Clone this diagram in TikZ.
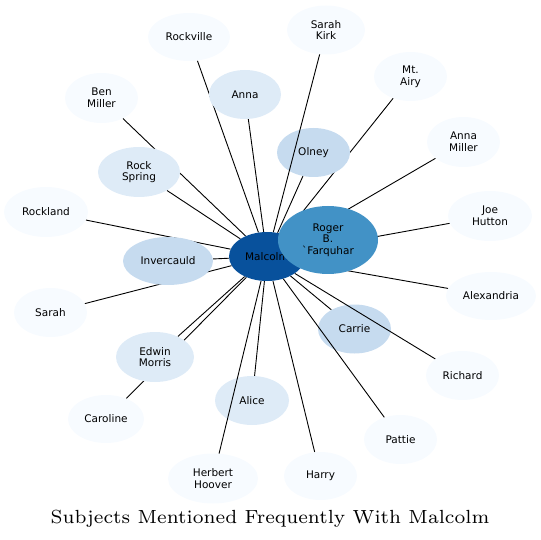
\documentclass[tikz,border=0pt]{standalone}
\usepackage{fontspec}
\newfontfamily\nodefont{DejaVu Sans}
\newfontfamily\titlefnt{lmroman7-regular.otf}
\usetikzlibrary{shapes.geometric,backgrounds}
\definecolor{bA}{HTML}{F7FBFF}
\definecolor{bB}{HTML}{DEEBF7}
\definecolor{bC}{HTML}{C6DBEF}
\definecolor{bF}{HTML}{4292C6}
\definecolor{bH}{HTML}{08519C}
\begin{document}
\begin{tikzpicture}[x=1pt,y=-1pt,
  bub/.style={ellipse,draw=none,inner sep=0pt,align=center,text=black,
    font=\nodefont\fontsize{10.5}{11.7}\selectfont},
  link/.style={draw=black,line width=0.9pt},
  titlefont/.style={font=\titlefnt\fontsize{19}{21}\selectfont}]
\useasboundingbox (0,0) rectangle (541,540);
% nodes
\node[bub,fill=bH,minimum width=76pt,minimum height=49pt] (malcolm) at (267,256.5) {Malcolm};
\node[bub,fill=bF,minimum width=100pt,minimum height=68pt] (roger) at (328,240) {Roger\\B.\\`Farquhar};
\node[bub,fill=bA,minimum width=82pt,minimum height=48pt] (rockville) at (189,37) {Rockville};
\node[bub,fill=bA,minimum width=78pt,minimum height=49pt] (sarahkirk) at (326,30) {Sarah\\Kirk};
\node[bub,fill=bB,minimum width=72pt,minimum height=49pt] (anna) at (245,94.5) {Anna};
\node[bub,fill=bA,minimum width=73pt,minimum height=49pt] (mtairy) at (410.5,76.5) {Mt.\\Airy};
\node[bub,fill=bA,minimum width=73pt,minimum height=50pt] (benmiller) at (101.5,98) {Ben\\Miller};
\node[bub,fill=bC,minimum width=73pt,minimum height=49pt] (olney) at (313.5,152.5) {Olney};
\node[bub,fill=bA,minimum width=73pt,minimum height=50pt] (annamiller) at (463.5,142) {Anna\\Miller};
\node[bub,fill=bB,minimum width=82pt,minimum height=50pt] (rockspring) at (139,172) {Rock\\Spring};
\node[bub,fill=bA,minimum width=84pt,minimum height=50pt] (rockland) at (46,212) {Rockland};
\node[bub,fill=bA,minimum width=84pt,minimum height=50pt] (joehutton) at (490,216) {Joe\\Hutton};
\node[bub,fill=bC,minimum width=90pt,minimum height=48pt] (invercauld) at (168,261) {Invercauld};
\node[bub,fill=bA,minimum width=90pt,minimum height=48pt] (alexandria) at (491,296) {Alexandria};
\node[bub,fill=bA,minimum width=73pt,minimum height=49pt] (sarah) at (50.5,312.5) {Sarah};
\node[bub,fill=bC,minimum width=73pt,minimum height=49pt] (carrie) at (354.5,329) {Carrie};
\node[bub,fill=bA,minimum width=73pt,minimum height=49pt] (richard) at (462.5,375.5) {Richard};
\node[bub,fill=bA,minimum width=73pt,minimum height=49pt] (pattie) at (400.5,439.5) {Pattie};
\node[bub,fill=bA,minimum width=73pt,minimum height=48pt] (harry) at (320.5,476) {Harry};
\node[bub,fill=bB,minimum width=78pt,minimum height=50pt] (edwinmorris) at (155,357) {Edwin\\Morris};
\node[bub,fill=bA,minimum width=76pt,minimum height=48pt] (caroline) at (106,419) {Caroline};
\node[bub,fill=bB,minimum width=74pt,minimum height=49pt] (alice) at (252,400.5) {Alice};
\node[bub,fill=bA,minimum width=90pt,minimum height=50pt] (herberthoover) at (213,478.5) {Herbert\\Hoover};
% edges behind nodes
\begin{pgfonlayer}{background}
\foreach \t in {rockville,anna,mtairy,benmiller,olney,annamiller,rockspring,rockland,joehutton,invercauld,alexandria,sarah,carrie,harry,edwinmorris,caroline,alice}
  \draw[link] (malcolm) -- (\t);
\end{pgfonlayer}
% edges drawn over nodes
\draw[link] (malcolm) -- (sarahkirk);
\draw[link] (malcolm) -- (herberthoover);
\draw[link] (malcolm) -- (richard);
\draw[link] (malcolm) -- (pattie);
% title
\node[titlefont,anchor=base] (title) at (270,523.5) {Subjects Mentioned Frequently With Malcolm};
\end{tikzpicture}
\end{document}
